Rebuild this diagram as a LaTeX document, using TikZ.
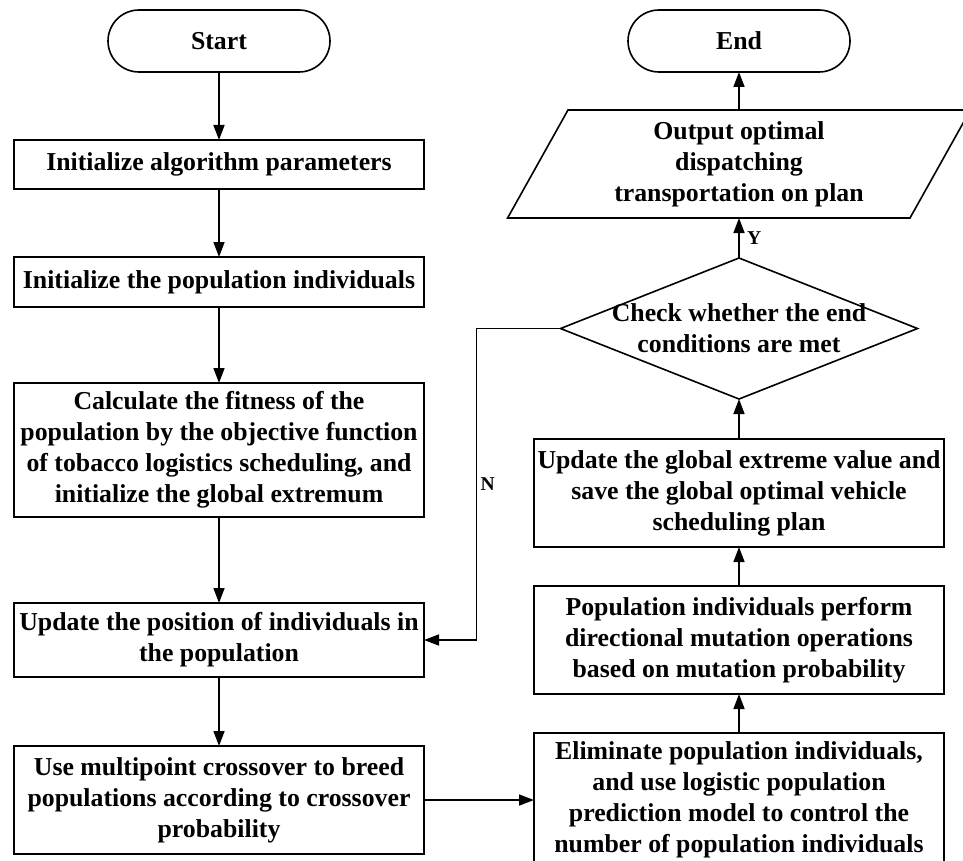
\documentclass[tikz,border=0pt]{standalone}
\usepackage{fontspec}
\setmainfont{Liberation Serif}
\usetikzlibrary{positioning,shapes.geometric,arrows.meta}
\begin{document}
\begin{tikzpicture}[>={Triangle[length=15pt,width=11pt]}, x=1pt, y=-1pt, line width=1.6pt,
  txt/.style={align=center, font=\fontsize{25.8}{31}\selectfont\bfseries},
  box/.style={draw, rectangle, txt, minimum width=410pt, inner sep=2pt, outer sep=0pt},
  term/.style={box, rounded corners=31pt, minimum width=222pt, minimum height=62pt},
  io/.style={box, trapezium, trapezium left angle=63.4, trapezium right angle=116.6, trapezium stretches, minimum width=463pt, minimum height=108pt},
  cond/.style={box, diamond, minimum width=357pt, minimum height=141pt, inner sep=0pt},
  yn/.style={font=\fontsize{19.6}{23}\selectfont\bfseries}]
\useasboundingbox (0,0) rectangle (963,861);
\node[term] (start) at (219,41) {Start};
\node[box, below=68pt of start, minimum height=49pt] (init) {Initialize algorithm parameters};
\node[box, below=68pt of init, minimum height=50pt] (pop) {Initialize the population individuals};
\node[box, below=76pt of pop, minimum height=134pt] (fit) {Calculate the fitness of the\\population by the objective function\\of tobacco logistics scheduling, and\\initialize the global extremum};
\node[box, below=86pt of fit, minimum height=74pt] (upd) {Update the position of individuals in\\the population};
\node[box, below=69pt of upd, minimum height=108pt] (cross) {Use multipoint crossover to breed\\populations according to crossover\\probability};
\node[term] (end) at (739,41) {End};
\node[io, below=38pt of end] (out) {Output optimal\\dispatching\\transportation on plan};
\node[cond, below=40pt of out, label={[txt]center:Check whether the end\\conditions are met}] (check) {};
\node[box, below=40pt of check, minimum height=108pt] (glob) {Update the global extreme value and\\save the global optimal vehicle\\scheduling plan};
\node[box, below=39pt of glob, minimum height=108pt] (mut) {Population individuals perform\\directional mutation operations\\based on mutation probability};
\node[box, below=39pt of mut, minimum height=134pt] (elim) {Eliminate population individuals,\\and use logistic population\\prediction model to control the\\number of population individuals};
\draw[->] (start) -- (init);
\draw[->] (init) -- (pop);
\draw[->] (pop) -- (fit);
\draw[->] (fit) -- (upd);
\draw[->] (upd) -- (cross);
\draw[->] (cross) -- (elim);
\draw[->] (elim) -- (mut);
\draw[->] (mut) -- (glob);
\draw[->] (glob) -- (check);
\draw[->] (check) -- node[yn, right, xshift=4pt] {Y} (out);
\draw[->] (out) -- (end);
\draw[->] (check.west) -- ++(-84,0) |- node[yn, pos=0.25, right] {N} (upd.east);
\end{tikzpicture}
\end{document}
